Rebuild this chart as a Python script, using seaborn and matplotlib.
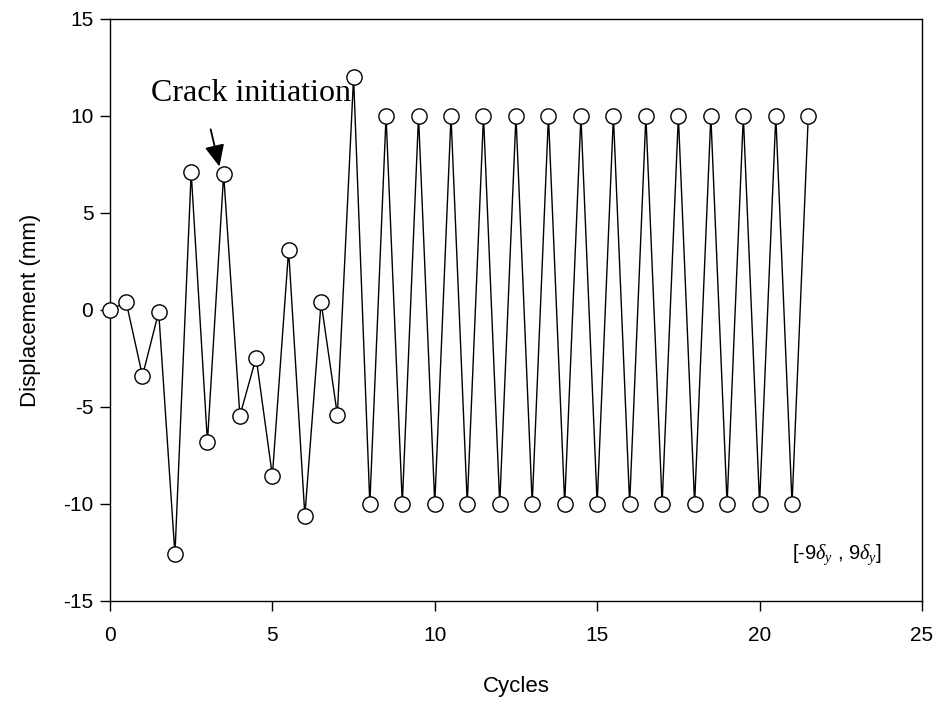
import matplotlib
matplotlib.use("Agg")
import matplotlib.pyplot as plt
import seaborn as sns
import pandas as pd

cycles = [0, 0.5, 1, 1.5, 2, 2.5, 3, 3.5, 4, 4.5, 5, 5.5, 6, 6.5, 7, 7.5,
          8, 8.5, 9, 9.5, 10, 10.5, 11, 11.5, 12, 12.5, 13, 13.5, 14, 14.5,
          15, 15.5, 16, 16.5, 17, 17.5, 18, 18.5, 19, 19.5, 20, 20.5, 21, 21.5]
displacement = [0, 0.4, -3.4, -0.1, -12.6, 7.1, -6.8, 7.0, -5.45, -2.45, -8.55, 3.1,
                -10.6, 0.4, -5.4, 12.0,
                -10, 10, -10, 10, -10, 10, -10, 10, -10, 10, -10, 10, -10, 10,
                -10, 10, -10, 10, -10, 10, -10, 10, -10, 10, -10, 10, -10, 10]
x_ticks = [0, 5, 10, 15, 20, 25]
y_ticks = [-15, -10, -5, 0, 5, 10, 15]

sns.set_style("white")
plt.rcParams['font.family'] = ['Liberation Sans', 'DejaVu Sans']
plt.rcParams['axes.unicode_minus'] = False
plt.rcParams['text.color'] = 'black'
plt.rcParams['axes.labelcolor'] = 'black'
plt.rcParams['xtick.color'] = 'black'
plt.rcParams['ytick.color'] = 'black'
plt.rcParams['mathtext.fontset'] = 'custom'
plt.rcParams['mathtext.it'] = 'Liberation Serif:italic'
plt.rcParams['mathtext.rm'] = 'Liberation Sans'

df = pd.DataFrame({"Cycles": cycles, "Displacement": displacement})

fig = plt.figure(figsize=(9.36, 7.02), dpi=100)
ax = fig.add_axes([0.1175, 0.1439, 0.8675, 0.8291])

sns.lineplot(data=df, x="Cycles", y="Displacement", ax=ax, color="black",
             linewidth=1.0, marker="o", markersize=11, markerfacecolor="white",
             markeredgecolor="black", markeredgewidth=1.0, sort=False,
             estimator=None, zorder=3, clip_on=False)

ax.set_xlim(0, 25)
ax.set_ylim(-15, 15)
ax.set_xticks(x_ticks)
ax.set_yticks(y_ticks)
ax.set_xlabel("Cycles", fontsize=16, labelpad=22)
ax.set_ylabel("Displacement (mm)", fontsize=16, labelpad=16)
ax.tick_params(axis='both', labelsize=15, direction='out', length=7, width=1,
               color='black', labelcolor='black',
               bottom=True, left=True, top=False, right=False)
ax.tick_params(axis='x', pad=11)
ax.tick_params(axis='y', pad=5)
for s in ax.spines.values():
    s.set_color('black')
    s.set_linewidth(1.0)

ax.annotate("", xy=(3.39, 7.25), xytext=(3.08, 9.45),
            arrowprops=dict(arrowstyle="-|>,head_length=1.1,head_width=0.5",
                            mutation_scale=12, color="black", lw=1.3))
ax.text(1.25, 11.15, "Crack initiation", family="Liberation Serif", fontsize=23,
        ha="left", va="center", color="black")
ax.text(21.0, -12.6, r"[-9$\delta_y$ , 9$\delta_y$]", fontsize=14.5,
        ha="left", va="center", color="black")

fig.savefig("out.png", dpi=100)
